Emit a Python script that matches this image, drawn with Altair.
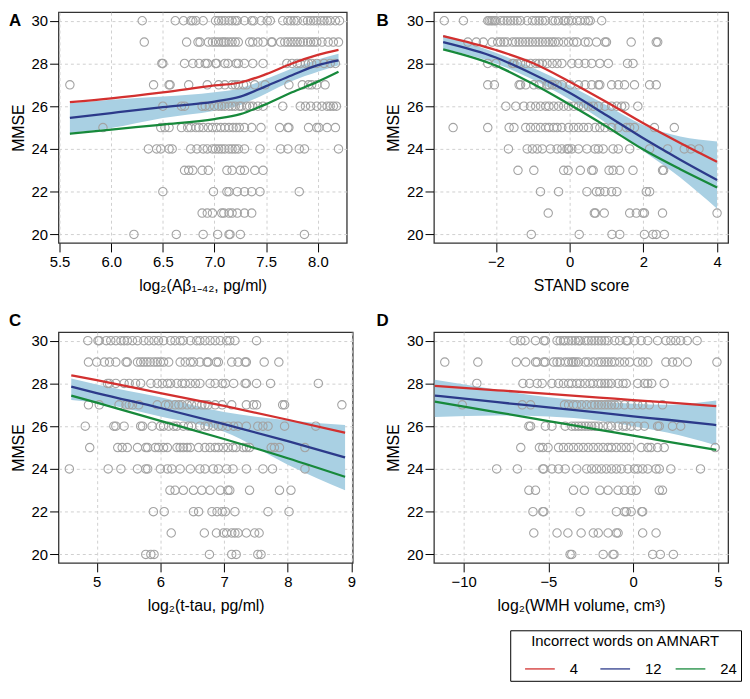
import altair as alt
import pandas as pd

# ---------------- data ----------------
MMSE_TICKS = [20, 22, 24, 26, 28, 30]
GROUPS = ["4", "12", "24"]
GROUP_COLORS = ["#d2302f", "#2c3a8a", "#17893b"]
BAND_COLOR = "#a9d0e3"
POINT_COLOR = "#a3a3a3"

# Panel A: log2(Abeta 1-42)
A_POINTS = {
    30: [6.30, 6.62, 6.70, 6.77, 6.79, 6.82, 6.89, 7.01, 7.04, 7.07, 7.10, 7.14, 7.17, 7.20, 7.22, 7.29, 7.36, 7.38, 7.45,
         7.51, 7.54, 7.66, 7.71, 7.74, 7.77, 7.80, 7.86, 7.90, 7.93, 7.96, 7.99, 8.03, 8.06, 8.09, 8.12, 8.17, 8.21],
    29: [6.32, 6.73, 6.84, 6.86, 6.94, 6.98, 7.01, 7.04, 7.07, 7.09, 7.11, 7.14, 7.17, 7.20, 7.23, 7.34, 7.37, 7.42, 7.47,
         7.55, 7.56, 7.64, 7.68, 7.71, 7.74, 7.77, 7.80, 7.83, 7.86, 7.90, 7.93, 7.96, 7.99, 8.04, 8.10, 8.15, 8.20],
    28: [6.49, 6.50, 6.71, 6.79, 6.85, 6.91, 6.93, 7.01, 7.02, 7.10, 7.13, 7.21, 7.23, 7.29, 7.37, 7.47, 7.70, 7.75, 7.80,
         7.83, 7.88, 7.91, 7.94, 7.99, 8.06, 8.12, 8.17],
    27: [5.60, 6.41, 6.56, 6.57, 6.75, 6.93, 7.04, 7.10, 7.17, 7.20, 7.23, 7.28, 7.31, 7.39, 7.49, 7.72, 7.85, 7.91, 7.94,
         7.99, 8.07],
    26: [6.50, 6.68, 6.71, 6.88, 6.91, 6.95, 7.00, 7.04, 7.07, 7.10, 7.14, 7.17, 7.20, 7.24, 7.26, 7.31, 7.34, 7.37, 7.42,
         7.47, 7.66, 7.83, 7.88, 7.93, 7.99, 8.04, 8.09, 8.12, 8.15, 8.18],
    25: [5.92, 6.48, 6.52, 6.56, 6.68, 6.74, 6.77, 6.82, 6.85, 6.89, 6.94, 6.98, 7.02, 7.06, 7.10, 7.14, 7.18, 7.21, 7.24,
         7.29, 7.36, 7.45, 7.63, 7.71, 7.72, 7.91, 7.99, 8.01, 8.09, 8.17],
    24: [6.36, 6.44, 6.48, 6.56, 6.59, 6.77, 6.83, 6.89, 6.93, 6.98, 7.01, 7.04, 7.07, 7.10, 7.14, 7.17, 7.20, 7.23, 7.29,
         7.44, 7.64, 7.71, 7.82, 7.87, 8.20],
    23: [6.71, 6.75, 6.79, 6.88, 6.94, 7.12, 7.17, 7.25, 7.29, 7.39, 7.47],
    22: [6.50, 6.99, 7.12, 7.14, 7.22, 7.29, 7.36, 7.44, 7.82],
    21: [6.88, 6.93, 6.98, 7.07, 7.09, 7.14, 7.17, 7.22, 7.29, 7.36],
    20: [6.22, 6.63, 6.89, 7.03, 7.14, 7.15, 7.25, 7.87],
}
A_LINE_X = [5.6, 6.0, 6.5, 7.0, 7.25, 7.5, 7.75, 8.0, 8.2]
A_RED = [26.19, 26.37, 26.65, 26.97, 27.11, 27.50, 28.00, 28.40, 28.64]
A_BLUE = [25.45, 25.68, 25.96, 26.22, 26.45, 26.94, 27.45, 27.92, 28.15]
A_GREEN = [24.71, 24.91, 25.14, 25.40, 25.63, 26.10, 26.65, 27.15, 27.61]
A_BAND_HI = [26.14, 26.30, 26.45, 26.65, 26.84, 27.27, 27.76, 28.19, 28.46]
A_BAND_LO = [24.75, 24.98, 25.45, 25.79, 26.06, 26.60, 27.18, 27.61, 27.92]

# Panel B: STAND score
B_POINTS = {
    30: [-3.40, -2.88, -2.22, -2.18, -2.13, -2.09, -2.04, -2.00, -1.87, -1.78, -1.69, -1.60, -1.51, -1.42, -1.33, -1.15,
         -1.01, -0.92, -0.83, -0.74, -0.65, -0.47, -0.39, -0.30, -0.16, -0.12, -0.03, 0.06, 0.20, 0.29, 0.42, 0.51, 0.56,
         0.87],
    29: [-2.76, -2.53, -2.34, -2.10, -1.95, -1.87, -1.78, -1.69, -1.55, -1.46, -1.37, -1.28, -1.19, -1.10, -1.01, -0.92,
         -0.83, -0.74, -0.65, -0.56, -0.47, -0.40, -0.30, -0.16, -0.03, 0.11, 0.20, 0.42, 0.51, 0.73, 0.96, 1.00, 1.67,
         2.35, 2.39],
    28: [-2.22, -2.00, -1.55, -1.51, -1.42, -1.33, -1.19, -1.06, -0.92, -0.83, -0.74, -0.61, -0.47, -0.34, -0.21, 0.06,
         0.24, 0.42, 0.60, 0.82, 1.05, 1.57, 1.72],
    27: [-2.22, -2.04, -1.37, -1.33, -1.19, -0.97, -0.83, -0.61, -0.56, -0.47, -0.34, -0.21, 0.02, 0.24, 0.42, 0.60,
         0.78, 0.82, 1.14, 1.32, 1.49, 1.76, 2.17, 2.35],
    26: [-1.73, -1.46, -1.24, -1.06, -0.92, -0.79, -0.65, -0.56, -0.43, -0.30, -0.16, -0.03, 0.11, 0.24, 0.38, 0.51,
         0.64, 0.78, 0.96, 1.14, 1.28, 1.41, 1.50, 1.85],
    25: [-3.16, -2.22, -1.64, -1.51, -1.19, -1.06, -0.92, -0.79, -0.65, -0.56, -0.43, -0.34, -0.21, -0.03, 0.11, 0.24,
         0.38, 0.51, 0.69, 0.82, 0.96, 1.14, 1.32, 1.54, 1.63, 1.76, 2.30, 2.84],
    24: [-1.66, -1.15, -1.01, -0.88, -0.74, -0.52, -0.34, -0.21, -0.07, -0.03, 0.06, 0.24, 0.47, 0.69, 0.78, 0.91, 1.18,
         1.32, 1.63, 2.17, 2.66, 3.11, 3.29, 3.51],
    23: [-1.40, -0.97, -0.16, -0.04, 0.29, 0.60, 0.64, 1.07, 1.18, 1.36, 1.72, 2.52, 2.55],
    22: [-0.79, -0.30, 0.47, 0.73, 0.82, 0.96, 1.14, 1.28, 2.08, 2.17],
    21: [-0.58, 0.67, 0.70, 0.94, 1.63, 1.81, 1.99, 2.03, 2.52, 4.00],
    20: [-1.04, 0.26, 1.15, 1.36, 2.03, 2.26, 2.35, 2.57],
}
B_LINE_X = [-3.43, -2.0, -1.0, 0.0, 1.0, 2.0, 3.0, 4.0]
B_RED = [29.28, 28.63, 28.02, 27.15, 26.20, 25.20, 24.28, 23.40]
B_BLUE = [29.00, 28.28, 27.51, 26.63, 25.58, 24.50, 23.50, 22.55]
B_GREEN = [28.66, 27.90, 27.05, 26.08, 25.05, 23.97, 23.05, 22.20]
B_BAND_HI = [29.35, 28.50, 27.80, 26.97, 26.05, 25.12, 24.58, 24.35]
B_BAND_LO = [28.69, 28.00, 27.25, 26.32, 25.20, 23.90, 22.66, 21.20]

# Panel C: log2(t-tau)
C_POINTS = {
    30: [4.86, 5.02, 5.04, 5.15, 5.22, 5.30, 5.38, 5.43, 5.48, 5.56, 5.64, 5.74, 5.82, 5.90, 5.97, 6.05, 6.16, 6.23, 6.31,
         6.36, 6.47, 6.57, 6.62, 6.70, 6.78, 6.86, 6.94, 7.04, 7.09, 7.17, 7.51],
    29: [4.87, 5.00, 5.12, 5.20, 5.30, 5.46, 5.48, 5.64, 5.69, 5.74, 5.79, 5.84, 5.90, 5.95, 6.00, 6.05, 6.13, 6.31, 6.39,
         6.47, 6.52, 6.62, 6.73, 6.75, 6.88, 6.91, 7.12, 7.22, 7.33, 7.35, 7.63, 7.86],
    28: [5.17, 5.20, 5.30, 5.43, 5.51, 5.61, 5.69, 5.85, 5.95, 6.03, 6.11, 6.16, 6.26, 6.34, 6.39, 6.47, 6.55, 6.62, 6.78,
         6.86, 6.97, 7.02, 7.15, 7.33, 7.35, 7.51, 7.73, 8.48],
    27: [4.87, 5.04, 5.35, 5.46, 5.51, 5.56, 5.66, 5.95, 6.08, 6.13, 6.23, 6.29, 6.34, 6.42, 6.49, 6.57, 6.65, 6.70, 6.75,
         6.86, 6.97, 7.12, 7.35, 7.46, 7.51, 7.92, 7.95, 8.85],
    26: [4.82, 5.27, 5.30, 5.43, 5.69, 5.72, 5.87, 6.00, 6.05, 6.13, 6.21, 6.26, 6.36, 6.44, 6.49, 6.62, 6.70, 6.75, 6.83,
         6.91, 6.97, 7.06, 7.15, 7.22, 7.35, 7.53, 7.61, 7.69, 7.95, 8.44],
    25: [4.89, 5.33, 5.40, 5.48, 5.64, 5.77, 5.80, 5.92, 5.97, 6.05, 6.11, 6.26, 6.31, 6.36, 6.42, 6.47, 6.60, 6.70, 6.78,
         6.86, 6.91, 6.99, 7.06, 7.14, 7.19, 7.30, 7.35, 7.40, 7.74, 7.79, 7.87, 8.27],
    24: [4.57, 5.18, 5.38, 5.64, 5.77, 5.80, 6.00, 6.11, 6.18, 6.31, 6.47, 6.62, 6.70, 6.83, 6.91, 7.04, 7.14, 7.35, 7.61,
         7.76, 8.27],
    23: [6.15, 6.23, 6.36, 6.52, 6.65, 6.78, 6.94, 7.06, 7.09, 7.40, 7.87, 8.05],
    22: [5.89, 6.06, 6.52, 6.60, 6.81, 6.89, 6.97, 7.02, 7.17, 7.69, 8.02],
    21: [6.17, 6.69, 6.88, 6.99, 7.04, 7.12, 7.17, 7.22, 7.35, 7.48, 7.55],
    20: [5.77, 5.85, 5.90, 6.77, 7.12, 7.19, 7.53, 7.58],
}
C_LINE_X = [4.6, 5.0, 6.0, 7.0, 8.0, 8.9]
C_RED = [28.38, 28.15, 27.55, 26.95, 26.30, 25.69]
C_BLUE = [27.85, 27.55, 26.85, 26.10, 25.30, 24.54]
C_GREEN = [27.43, 27.10, 26.25, 25.40, 24.50, 23.63]
C_BAND_HI = [28.23, 27.95, 27.35, 26.66, 26.28, 26.05]
C_BAND_LO = [27.23, 27.10, 26.45, 25.74, 24.20, 23.00]

# Panel D: log2(WMH volume)
D_POINTS = {
    30: [-7.02, -6.63, -6.38, -5.76, -5.27, -5.18, -4.49, -4.30, -4.11, -4.01, -3.81, -3.62, -3.42, -3.23, -3.13, -2.84,
         -2.65, -2.45, -2.26, -2.06, -1.87, -1.67, -1.48, -1.09, -0.80, -0.41, -0.31, 0.08, 0.47, 0.86, 1.44, 1.93, 2.22,
         2.51, 2.80, 3.19, 3.77],
    29: [-11.11, -9.16, -6.89, -6.34, -5.76, -5.66, -5.27, -5.18, -4.69, -4.49, -4.30, -4.01, -3.81, -3.62, -3.52, -3.39,
         -3.23, -2.84, -2.65, -2.35, -2.06, -1.87, -1.67, -1.48, -1.28, -1.09, -0.80, -0.51, -0.21, 0.27, 0.56, 0.86, 1.93,
         2.32, 2.61, 3.19, 4.94],
    28: [-9.22, -6.50, -6.11, -5.66, -5.37, -4.79, -4.40, -4.11, -3.81, -3.62, -3.33, -3.13, -2.84, -2.55, -2.35, -2.06,
         -1.87, -1.67, -1.48, -1.28, -0.89, -0.60, -0.41, 0.27, 0.66, 0.86, 1.09, 1.83],
    27: [-10.08, -6.54, -6.05, -4.05, -3.81, -3.52, -3.33, -3.04, -2.74, -2.45, -2.26, -2.06, -1.87, -1.67, -1.48, -1.28,
         -1.09, -0.89, -0.51, -0.12, 0.27, 0.56, 0.95, 1.73],
    26: [-6.15, -6.05, -5.18, -4.79, -4.01, -3.62, -3.42, -3.23, -3.04, -2.84, -2.65, -2.45, -2.26, -2.06, -1.77, -1.48,
         -1.28, -0.89, -0.60, -0.41, -0.12, 0.27, 0.66, 1.44, 1.54, 2.32, 2.80],
    25: [-6.63, -5.53, -5.33, -5.02, -4.40, -4.11, -3.81, -3.52, -3.23, -2.94, -2.65, -2.35, -2.06, -1.77, -1.48, -1.28,
         -0.99, -0.70, -0.41, -0.12, 0.47, 0.86, 1.05, 1.44, 1.83, 4.84],
    24: [-8.05, -6.83, -5.33, -5.27, -4.79, -4.40, -4.01, -3.33, -2.74, -2.45, -2.16, -1.87, -1.58, -1.28, -0.99, -0.70,
         -0.31, 0.08, 0.27, 0.56, 0.86, 1.35, 1.54, 2.22, 3.97],
    23: [-6.15, -5.76, -3.52, -2.88, -1.96, -1.48, -0.89, -0.51, -0.12, 0.18, 1.54, 1.73],
    22: [-5.91, -5.33, -5.27, -3.13, -0.99, -0.51, -0.41, -0.12, 0.51, 0.56],
    21: [-5.86, -4.49, -3.85, -3.07, -2.35, -2.06, -1.48, -0.99, -0.89, 0.56, 1.35],
    20: [-3.72, -3.62, -1.77, -1.19, -1.13, 1.15, 1.60, 2.37],
}
D_LINE_X = [-11.7, -8.0, -5.0, -2.0, 0.0, 2.0, 4.9]
D_RED = [27.89, 27.68, 27.51, 27.34, 27.22, 27.11, 26.94]
D_BLUE = [27.43, 27.12, 26.88, 26.63, 26.46, 26.30, 26.05]
D_GREEN = [27.15, 26.65, 26.24, 25.83, 25.56, 25.28, 24.89]
D_BAND_HI = [28.17, 27.70, 27.35, 27.15, 27.05, 27.00, 27.20]
D_BAND_LO = [26.43, 26.50, 26.45, 26.25, 26.00, 25.70, 25.10]

FONT = "Liberation Sans"
PANEL_H = 233

legend = alt.Legend(
    title="Incorrect words on AMNART", orient="none", legendX=456, legendY=624,
    direction="horizontal", titleAnchor="middle", titleFontSize=15, titleFontWeight="normal",
    titleFont=FONT, titleColor="black", titlePadding=4, titleLimit=400,
    labelFont=FONT, labelFontSize=15, labelColor="black", labelOffset=14, labelLimit=60,
    symbolType="stroke", symbolSize=900, symbolStrokeWidth=1.3, symbolOffset=10,
    gridAlign="all", columnPadding=3, padding=4, strokeColor="black", fillColor="white",
)


def points_df(pts):
    return pd.DataFrame([{"x": x, "y": y} for y, xs in pts.items() for x in xs])


def lines_df(xs, red, blue, green):
    rows = []
    for name, ys in zip(GROUPS, (red, blue, green)):
        rows += [{"x": x, "y": y, "g": name} for x, y in zip(xs, ys)]
    return pd.DataFrame(rows)


def panel(letter, pts, lx, red, blue, green, lo, hi, xdom, xticks, xfmt, xtitle, width, lxpos, lypos):
    xenc = alt.X("x:Q", scale=alt.Scale(domain=xdom, nice=False, zero=False),
                 axis=alt.Axis(values=xticks, format=xfmt, title=xtitle))
    yaxis = alt.Axis(values=MMSE_TICKS, title="MMSE")
    yscale = alt.Scale(domain=[19.6, 30.4], nice=False, zero=False)

    band_df = pd.DataFrame({"x": lx, "lo": lo, "hi": hi})
    band = alt.Chart(band_df).mark_area(color=BAND_COLOR, interpolate="monotone").encode(
        x=xenc, y=alt.Y("lo:Q", scale=yscale, axis=yaxis), y2="hi:Q")
    points = alt.Chart(points_df(pts)).mark_point(
        shape="circle", filled=False, size=72, color=POINT_COLOR, strokeWidth=1.1, opacity=1).encode(
        x=xenc, y=alt.Y("y:Q", scale=yscale, axis=yaxis))
    lines = alt.Chart(lines_df(lx, red, blue, green)).mark_line(
        strokeWidth=2.3, interpolate="monotone").encode(
        x=xenc, y=alt.Y("y:Q", scale=yscale, axis=yaxis),
        color=alt.Color("g:N", scale=alt.Scale(domain=GROUPS, range=GROUP_COLORS), legend=legend),
        detail="g:N")
    lab = alt.Chart(pd.DataFrame({"t": [letter]})).mark_text(
        font=FONT, fontSize=17, fontWeight="bold", align="left", baseline="middle", color="black").encode(
        x=alt.value(lxpos), y=alt.value(lypos), text="t:N")
    return alt.layer(band, points, lines, lab).properties(width=width, height=PANEL_H)


pa = panel("A", A_POINTS, A_LINE_X, A_RED, A_BLUE, A_GREEN, A_BAND_LO, A_BAND_HI,
           [5.49, 8.28], [5.5, 6.0, 6.5, 7.0, 7.5, 8.0], ".1f", "log₂(Aβ₁₋₄₂, pg/ml)", 291, -50, 9)
pb = panel("B", B_POINTS, B_LINE_X, B_RED, B_BLUE, B_GREEN, B_BAND_LO, B_BAND_HI,
           [-3.68, 4.30], [-2, 0, 2, 4], "d", "STAND score", 297, -58, 9)
pc = panel("C", C_POINTS, C_LINE_X, C_RED, C_BLUE, C_GREEN, C_BAND_LO, C_BAND_HI,
           [4.40, 9.02], [5, 6, 7, 8, 9], "d", "log₂(t-tau, pg/ml)", 297, -50, -11)
pd_ = panel("D", D_POINTS, D_LINE_X, D_RED, D_BLUE, D_GREEN, D_BAND_LO, D_BAND_HI,
            [-11.75, 5.60], [-10, -5, 0, 5], "d", "log₂(WMH volume, cm³)", 297, -58, -11)

chart = alt.concat(pa, pb, pc, pd_, columns=2, bounds="flush",
                   spacing={"row": 90, "column": 82}).properties(
    padding={"left": 0, "top": 0, "right": 0, "bottom": 0}
).configure_view(
    stroke="#333333", strokeWidth=1.3
).configure_axis(
    labelFont=FONT, labelFontSize=15, labelColor="black",
    titleFont=FONT, titleFontSize=16, titleFontWeight="normal", titleColor="black",
    tickColor="black", tickSize=9, tickWidth=1, domain=False,
    grid=True, gridColor="#cfcfcf", gridDash=[3, 3], gridWidth=1,
).configure_axisX(labelPadding=3, titlePadding=8).configure_axisY(labelPadding=2, titlePadding=5)

chart.save("out.html", embed_options={"renderer": "svg", "actions": False})
